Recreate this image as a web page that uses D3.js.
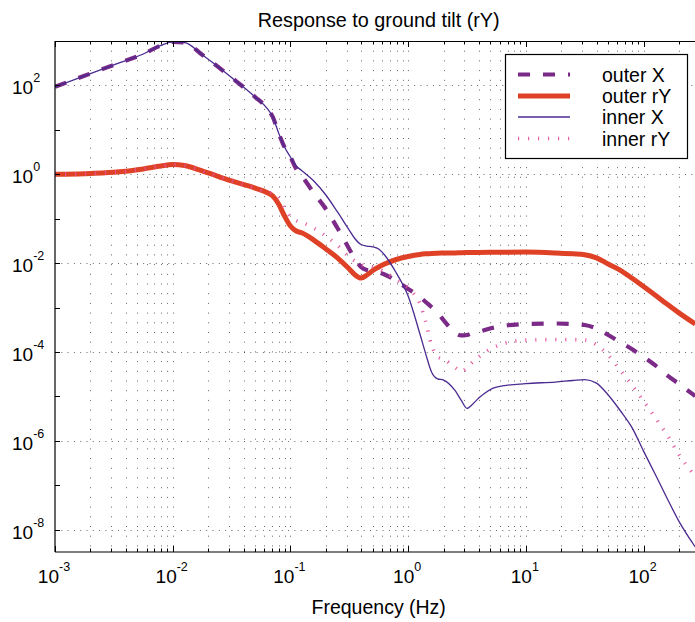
<!DOCTYPE html>
<html>
<head>
<meta charset="utf-8">
<script src="https://cdn.jsdelivr.net/npm/d3@7/dist/d3.min.js"></script>
<style>
  html, body { margin: 0; padding: 0; background: #fff; }
  svg { display: block; }
  text { font-family: "Liberation Sans", Arial, Helvetica, sans-serif; fill: #000; }
</style>
</head>
<body>
<svg id="chart" width="695" height="622"></svg>
<script>
// Frequency grid (Hz) shared by all four transfer functions
const freq = [0.001, 0.00178, 0.00316, 0.00562, 0.00794, 0.01, 0.0126, 0.0178, 0.0316, 0.0501,
  0.0631, 0.0708, 0.0794, 0.0891, 0.1, 0.112, 0.126, 0.158, 0.2, 0.251,
  0.316, 0.355, 0.398, 0.447, 0.501, 0.562, 0.631, 0.794, 1, 1.26,
  1.41, 1.58, 1.78, 2.0, 2.51, 2.82, 3.16, 3.55, 3.98, 5.62,
  10, 17.8, 25.1, 31.6, 39.8, 50.1, 63.1, 79.4, 100, 126,
  158, 200, 275];

// Response magnitudes to ground tilt
const outerX = [93, 165, 290, 510, 794, 955, 925, 490, 151, 55,
  31, 19.5, 8.5, 4.1, 2.45, 1.32, 0.89, 0.38, 0.166, 0.0617,
  0.0209, 0.0124, 0.0082, 0.0070, 0.00667, 0.00617, 0.00556, 0.00398, 0.00263, 0.00174,
  0.00134, 0.00103, 0.00076, 0.000525, 0.000269, 0.000236, 0.000242, 0.000269, 0.000288, 0.000366,
  0.000427, 0.000439, 0.000427, 0.000407, 0.000339, 0.000242, 0.000168, 0.000117, 0.0000776, 0.0000501,
  0.0000304, 0.0000191, 0.0000102];

const outerRY = [1.0, 1.03, 1.11, 1.32, 1.54, 1.66, 1.58, 1.19, 0.708, 0.49,
  0.389, 0.324, 0.214, 0.115, 0.0686, 0.053, 0.0479, 0.0331, 0.0209, 0.0132,
  0.00741, 0.00542, 0.00463, 0.00542, 0.00684, 0.0082, 0.00955, 0.0121, 0.0141, 0.0157,
  0.0162, 0.0166, 0.0168, 0.0169, 0.017, 0.0172, 0.0173, 0.0174, 0.0174, 0.0176,
  0.0178, 0.017, 0.0162, 0.0155, 0.0132, 0.00955, 0.0070, 0.00463, 0.00299, 0.0019,
  0.0012, 0.00076, 0.000427];

const innerX = [93, 165, 290, 510, 794, 955, 925, 490, 151, 55,
  31, 19.5, 8.5, 4.1, 2.45, 1.54, 1.19, 0.708, 0.342, 0.142,
  0.0557, 0.035, 0.0263, 0.0243, 0.0234, 0.0208, 0.0153, 0.00601, 0.00182, 0.000254,
  0.0000912, 0.0000357, 0.000025, 0.0000234, 0.0000135, 0.0000083, 0.0000054, 0.0000068, 0.0000092, 0.0000163,
  0.0000195, 0.0000211, 0.0000229, 0.000024, 0.00002, 0.0000108, 0.0000049, 0.00000204, 5.9e-7, 1.75e-7,
  5.2e-8, 1.55e-8, 4.1e-9];

const innerRY = [1.0, 1.03, 1.11, 1.32, 1.54, 1.66, 1.58, 1.19, 0.708, 0.49,
  0.389, 0.38, 0.302, 0.174, 0.11, 0.0912, 0.0822, 0.0617, 0.0407, 0.0251,
  0.0138, 0.011, 0.00933, 0.00863, 0.0082, 0.00741, 0.00631, 0.00417, 0.00275, 0.0012,
  0.00048, 0.000144, 0.0000776, 0.0000692, 0.0000447, 0.0000363, 0.0000437, 0.0000603, 0.0000776, 0.000136,
  0.000186, 0.000191, 0.000191, 0.000186, 0.000145, 0.0000851, 0.0000398, 0.0000182, 0.0000079, 0.0000033,
  0.00000138, 4.9e-7, 1.6e-7];

const seriesNames = ["outer X", "outer rY", "inner X", "inner rY"];
const xTickExps = [-3, -2, -1, 0, 1, 2];
const yTickExps = [2, 0, -2, -4, -6, -8];

const titleText = "Response to ground tilt (rY)";
const xLabelText = "Frequency (Hz)";

// ---- layout ----
const W = 695, H = 622;
const plotLeft = 55, plotTop = 41, plotBottom = 552;
const xRight = 702.4;           // where 10^2.5 would fall; the frame is cropped at W
const clipRight = W;

const x = d3.scaleLog().domain([1e-3, Math.pow(10, 2.5)]).range([plotLeft, xRight]);
const y = d3.scaleLog().domain([Math.pow(10, -8.5), 1e3]).range([plotBottom, plotTop]);

const svg = d3.select("#chart");

svg.append("defs").append("clipPath").attr("id", "plotClip")
  .append("rect").attr("x", plotLeft).attr("y", plotTop)
  .attr("width", clipRight - plotLeft).attr("height", plotBottom - plotTop);

// ---- grid ----
const grid = svg.append("g");
const vGrid = [];
for (let e = -3; e <= 2; e++) {
  for (let k = 1; k <= 9; k++) {
    const f = k * Math.pow(10, e);
    if (f <= Math.pow(10, 2.45)) vGrid.push(f);
  }
}
grid.selectAll("line.v").data(vGrid.filter(f => f > 1e-3)).join("line")
  .attr("class", "v")
  .attr("x1", d => Math.round(x(d)) + 0.5).attr("x2", d => Math.round(x(d)) + 0.5)
  .attr("y1", plotTop).attr("y2", plotBottom)
  .attr("stroke", "#000").attr("stroke-opacity", 0.6)
  .attr("stroke-width", 1).attr("stroke-dasharray", "1,8.7");

grid.selectAll("line.h").data(yTickExps).join("line")
  .attr("class", "h")
  .attr("x1", plotLeft).attr("x2", clipRight)
  .attr("y1", d => Math.round(y(Math.pow(10, d))) + 0.5)
  .attr("y2", d => Math.round(y(Math.pow(10, d))) + 0.5)
  .attr("stroke", "#000").attr("stroke-opacity", 0.6)
  .attr("stroke-width", 1).attr("stroke-dasharray", "1,5.3");

// ---- curves ----
const line = d3.line()
  .x((d, i) => x(freq[i]))
  .y(d => y(d))
  .curve(d3.curveMonotoneX);

const styles = {
  "outer X":  { data: outerX,  color: "#7b2a88", width: 4.2, dash: "12,13", opacity: 1 },
  "outer rY": { data: outerRY, color: "#df4127", width: 5,   dash: null,    opacity: 1 },
  "inner X":  { data: innerX,  color: "#4a2a90", width: 1.3, dash: null,    opacity: 1 },
  "inner rY": { data: innerRY, color: "#e2529b", width: 3.6, dash: "1.2,8.8", opacity: 0.9 }
};

const curves = svg.append("g").attr("clip-path", "url(#plotClip)");
seriesNames.forEach(name => {
  const s = styles[name];
  curves.append("path")
    .attr("d", line(s.data))
    .attr("fill", "none")
    .attr("stroke", s.color)
    .attr("stroke-width", s.width)
    .attr("stroke-opacity", s.opacity)
    .attr("stroke-linejoin", "round")
    .attr("stroke-dasharray", s.dash);
});

// ---- frame and ticks ----
const frame = svg.append("g").attr("stroke", "#000").attr("stroke-width", 1.2);
frame.append("line").attr("x1", plotLeft).attr("x2", clipRight).attr("y1", plotTop + 0.5).attr("y2", plotTop + 0.5);
frame.append("line").attr("x1", plotLeft).attr("x2", clipRight).attr("y1", plotBottom).attr("y2", plotBottom);
frame.append("line").attr("x1", plotLeft).attr("x2", plotLeft).attr("y1", plotTop).attr("y2", plotBottom);

const xTicks = [];
for (let e = -3; e <= 2; e++) {
  for (let k = 1; k <= 9; k++) {
    const f = k * Math.pow(10, e);
    if (f <= Math.pow(10, 2.45)) xTicks.push({ f, major: k === 1 });
  }
}
const tk = svg.append("g").attr("stroke", "#000").attr("stroke-width", 1);
xTicks.forEach(t => {
  const px = Math.round(x(t.f)) + 0.5;
  const len = t.major ? 6 : 3.5;
  tk.append("line").attr("x1", px).attr("x2", px).attr("y1", plotBottom).attr("y2", plotBottom - len);
  tk.append("line").attr("x1", px).attr("x2", px).attr("y1", plotTop).attr("y2", plotTop + len);
});
for (let e = -8; e <= 2; e++) {
  const py = Math.round(y(Math.pow(10, e))) + 0.5;
  tk.append("line").attr("x1", plotLeft).attr("x2", plotLeft + 5).attr("y1", py).attr("y2", py);
}

// ---- tick labels (10 with superscript exponent) ----
function powerLabel(g, xPos, yPos, exp, anchor) {
  const t = g.append("text")
    .attr("x", xPos).attr("y", yPos)
    .attr("text-anchor", anchor)
    .style("font-size", "19px");
  t.append("tspan").text("10");
  t.append("tspan").attr("dy", -12).style("font-size", "12.5px").text(String(exp));
  return t;
}
const labels = svg.append("g");
xTickExps.forEach(e => powerLabel(labels, x(Math.pow(10, e)) - 1, 583, e, "middle"));
yTickExps.forEach(e => powerLabel(labels, 12, y(Math.pow(10, e)) + 9, e, "start"));

// ---- title and axis label ----
const plotCenter = (plotLeft + xRight) / 2;
svg.append("text").attr("x", plotCenter).attr("y", 27)
  .attr("text-anchor", "middle").style("font-size", "19.8px").text(titleText);
svg.append("text").attr("x", plotCenter).attr("y", 614)
  .attr("text-anchor", "middle").style("font-size", "19.5px").text(xLabelText);

// ---- legend ----
const lg = svg.append("g");
lg.append("rect").attr("x", 505.5).attr("y", 54.5).attr("width", 182).attr("height", 104)
  .attr("fill", "#fff").attr("stroke", "#000").attr("stroke-width", 1.2);
const rowY = [74.5, 96, 117, 138.5];
seriesNames.forEach((name, i) => {
  const s = styles[name];
  lg.append("line")
    .attr("x1", 518).attr("x2", 570).attr("y1", rowY[i]).attr("y2", rowY[i])
    .attr("stroke", s.color).attr("stroke-width", s.width)
    .attr("stroke-opacity", s.opacity)
    .attr("stroke-dasharray", s.dash);
  lg.append("text").attr("x", 602).attr("y", rowY[i] + 7)
    .style("font-size", "19.5px").text(name);
});
</script>
</body>
</html>
